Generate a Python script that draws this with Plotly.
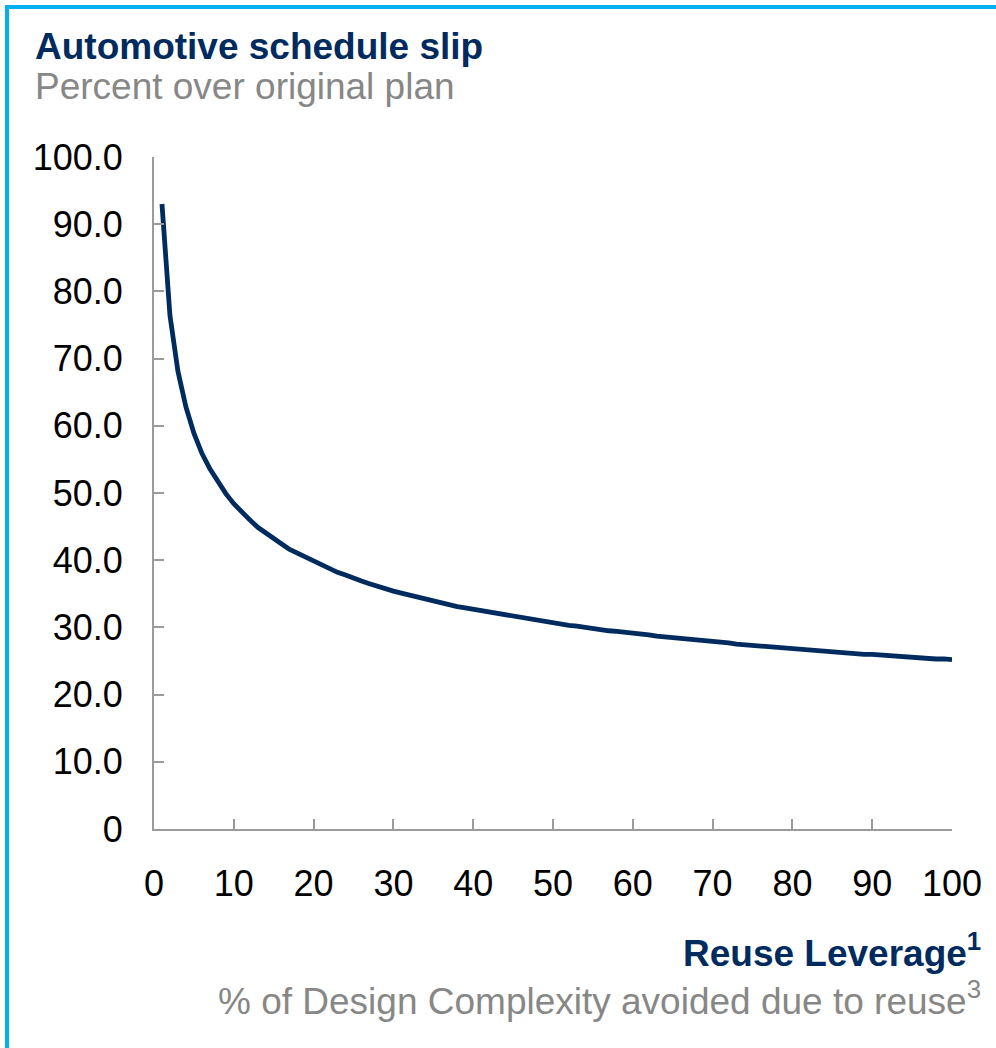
import plotly.graph_objects as go

# ---- data ----
reuse_leverage = list(range(1, 101))
schedule_slip = [
    93.0, 76.4, 68.1, 62.8, 58.9, 55.9, 53.6, 51.6, 49.9, 48.4,
    47.1, 46.0, 44.9, 44.0, 43.1, 42.4, 41.6, 41.0, 40.4, 39.8,
    39.2, 38.7, 38.2, 37.8, 37.3, 36.9, 36.5, 36.1, 35.8, 35.4,
    35.1, 34.8, 34.5, 34.2, 33.9, 33.7, 33.4, 33.1, 32.9, 32.7,
    32.4, 32.2, 32.0, 31.8, 31.6, 31.4, 31.2, 31.0, 30.8, 30.7,
    30.5, 30.3, 30.2, 30.0, 29.8, 29.7, 29.5, 29.4, 29.3, 29.1,
    29.0, 28.9, 28.7, 28.6, 28.5, 28.3, 28.2, 28.1, 28.0, 27.9,
    27.8, 27.7, 27.5, 27.4, 27.3, 27.2, 27.1, 27.0, 26.9, 26.8,
    26.7, 26.7, 26.6, 26.5, 26.4, 26.3, 26.2, 26.1, 26.0, 26.0,
    25.9, 25.8, 25.7, 25.6, 25.6, 25.5, 25.4, 25.3, 25.3, 25.2,
]
y_tickvals = [0, 10, 20, 30, 40, 50, 60, 70, 80, 90, 100]
y_ticktext = ["0", "10.0", "20.0", "30.0", "40.0", "50.0", "60.0", "70.0", "80.0", "90.0", "100.0"]
x_tickvals = [0, 10, 20, 30, 40, 50, 60, 70, 80, 90, 100]
x_ticktext = ["0", "10", "20", "30", "40", "50", "60", "70", "80", "90", "100"]

title_text = "Automotive schedule slip"
subtitle_text = "Percent over original plan"
xtitle_text = "Reuse Leverage<sup>1</sup>"
xsub_text = "% of Design Complexity avoided due to reuse<sup>3</sup>"

NAVY = "#002B5F"
GREY_TXT = "#878787"
AXIS = "#9B9B9B"
BORDER = "#00B0F0"
FONT = "Liberation Sans, Arial, sans-serif"

W, H = 996, 1048
L, R, T, B = 154, 44, 157, 219
PW, PH = W - L - R, H - T - B


def px(xp):
    return (xp - L) / PW


def py(yp):
    return (H - B - yp) / PH


fig = go.Figure()
fig.add_trace(go.Scatter(
    x=reuse_leverage, y=schedule_slip, mode="lines",
    line=dict(color=NAVY, width=4.8), hoverinfo="skip", showlegend=False,
))

fig.update_layout(
    width=W, height=H,
    margin=dict(l=L, r=R, t=T, b=B),
    paper_bgcolor="white", plot_bgcolor="white",
    font=dict(family=FONT, color="black", size=36),
    showlegend=False,
    xaxis=dict(
        range=[0, 100], tickvals=x_tickvals, ticktext=x_ticktext,
        showgrid=False, zeroline=False, showline=True, linecolor=AXIS, linewidth=2,
        ticks="inside", ticklen=10, tickwidth=2, tickcolor=AXIS,
        tickfont=dict(family=FONT, size=36, color="black"),
        ticklabelstandoff=22,
    ),
    yaxis=dict(
        range=[0, 100], tickvals=y_tickvals, ticktext=y_ticktext,
        showgrid=False, zeroline=False, showline=True, linecolor=AXIS, linewidth=2,
        ticks="inside", ticklen=10, tickwidth=2, tickcolor=AXIS,
        tickfont=dict(family=FONT, size=36, color="black"),
        ticklabelstandoff=22,
    ),
)

fig.add_annotation(text="<b>" + title_text + "</b>", xref="paper", yref="paper",
                   x=px(33), y=py(47), xanchor="left", yanchor="middle", showarrow=False,
                   font=dict(family=FONT, size=37, color=NAVY))
fig.add_annotation(text=subtitle_text, xref="paper", yref="paper",
                   x=px(33), y=py(87), xanchor="left", yanchor="middle", showarrow=False,
                   font=dict(family=FONT, size=37, color=GREY_TXT))
fig.add_annotation(text="<b>" + xtitle_text + "</b>", xref="paper", yref="paper",
                   x=px(983), y=py(950), xanchor="right", yanchor="middle", showarrow=False,
                   font=dict(family=FONT, size=37, color=NAVY))
fig.add_annotation(text=xsub_text, xref="paper", yref="paper",
                   x=px(983), y=py(998), xanchor="right", yanchor="middle", showarrow=False,
                   font=dict(family=FONT, size=37, color=GREY_TXT))

# frame lines (top and left)
fig.add_shape(type="line", xref="paper", yref="paper",
              x0=px(5), x1=px(1100), y0=py(7), y1=py(7),
              line=dict(color=BORDER, width=4))
fig.add_shape(type="line", xref="paper", yref="paper",
              x0=px(7), x1=px(7), y0=py(5), y1=py(1200),
              line=dict(color=BORDER, width=4))

fig.write_html(
    "out.html",
    config={"displayModeBar": False},
    post_script="document.body.style.margin='0';document.body.style.padding='0';",
)
